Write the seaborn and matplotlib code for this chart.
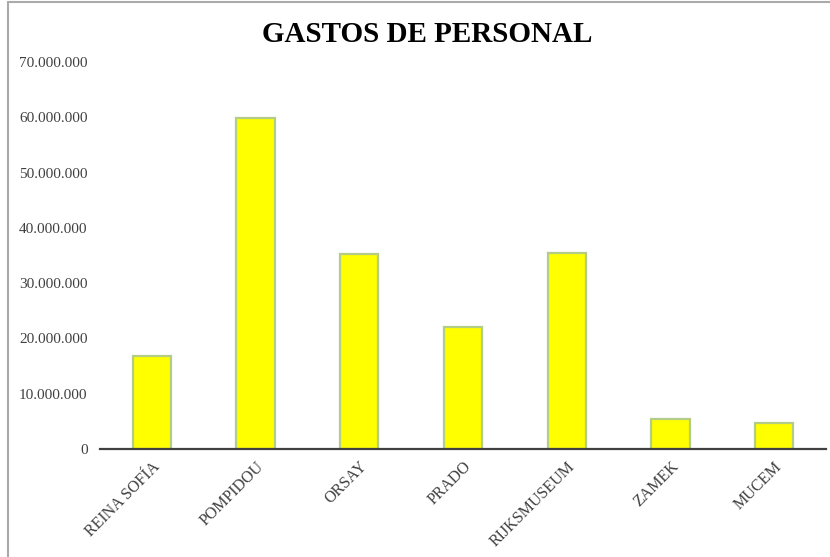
import matplotlib
matplotlib.use("Agg")
import matplotlib.pyplot as plt
import seaborn as sns
from matplotlib.ticker import FuncFormatter, MultipleLocator
from matplotlib.lines import Line2D

# data
museos = ["REINA SOFÍA", "POMPIDOU", "ORSAY", "PRADO", "RIJKSMUSEUM", "ZAMEK", "MUCEM"]
gastos = [16800000, 59800000, 35300000, 22100000, 35400000, 5400000, 4750000]

sns.set_style("white")
plt.rcParams['font.family'] = ['Liberation Serif', 'DejaVu Serif']

fig = plt.figure(figsize=(8.3, 5.57), dpi=100)
ax = fig.add_axes([100/830, 1 - 449/557, 726/830, (449 - 62)/557])

sns.barplot(x=museos, y=gastos, color="#ffff00", saturation=1, width=0.37,
            edgecolor="#b3cc86", linewidth=1.6, ax=ax)

ax.set_xlim(-0.5, 6.5)
ax.set_ylim(0, 70000000)
ax.yaxis.set_major_locator(MultipleLocator(10000000))
ax.yaxis.set_major_formatter(FuncFormatter(lambda v, p: f"{int(v):,}".replace(",", ".")))

for s in ["top", "right", "left"]:
    ax.spines[s].set_visible(False)
ax.spines["bottom"].set_color("#404040")
ax.spines["bottom"].set_linewidth(1.6)

ax.tick_params(axis="y", length=0, pad=9, labelsize=11, labelcolor="#404040")
ax.tick_params(axis="x", length=0, pad=7, labelsize=11.5, labelcolor="#404040")
plt.setp(ax.get_xticklabels(), rotation=45, ha="right", rotation_mode="anchor")
ax.set_xlabel("")
ax.set_ylabel("")

fig.text(427/830, 1 - 34/557, "GASTOS DE PERSONAL", ha="center", va="center",
         fontsize=21, fontweight="bold", color="#000000")

# outer chart border
fig.add_artist(Line2D([8/830, 1], [1 - 2/557, 1 - 2/557], color="#aaaaaa", lw=1.5))
fig.add_artist(Line2D([8/830, 8/830], [0, 1 - 2/557], color="#aaaaaa", lw=1.5))

fig.savefig("out.png", dpi=100)
